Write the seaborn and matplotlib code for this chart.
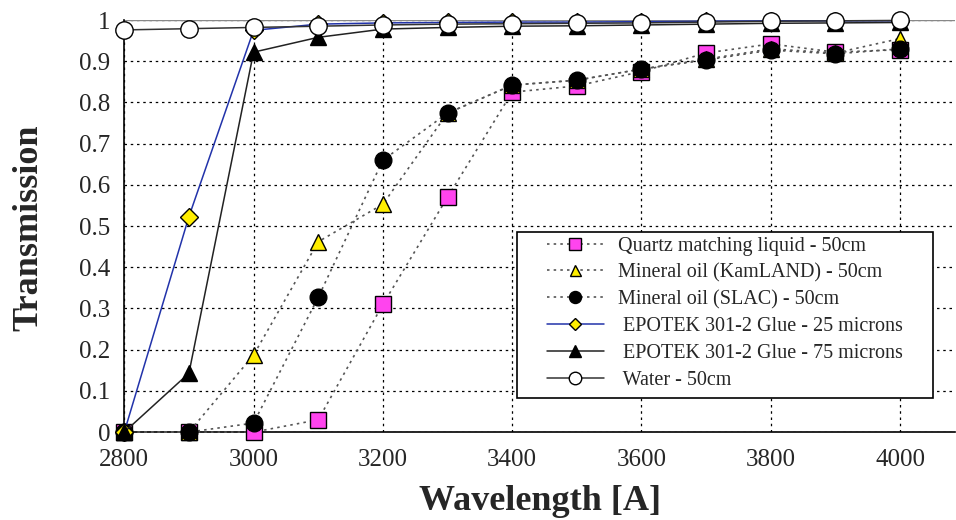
import matplotlib
matplotlib.use("Agg")
import matplotlib.pyplot as plt
from matplotlib.patches import Rectangle
import seaborn as sns
import pandas as pd

wavelength = [2800, 2900, 3000, 3100, 3200, 3300, 3400, 3500, 3600, 3700, 3800, 3900, 4000]
quartz = [0.0, 0.0, 0.0, 0.03, 0.31, 0.57, 0.825, 0.84, 0.875, 0.92, 0.942, 0.922, 0.928]
kamland = [0.0, 0.0, 0.187, 0.462, 0.553, 0.774, 0.842, 0.854, 0.881, 0.905, 0.93, 0.92, 0.955]
slac = [0.0, 0.0, 0.022, 0.327, 0.66, 0.774, 0.842, 0.854, 0.881, 0.903, 0.927, 0.918, 0.93]
glue25 = [0.0, 0.523, 0.975, 0.99, 0.993, 0.994, 0.995, 0.995, 0.996, 0.997, 0.998, 0.998, 0.998]
glue75 = [0.0, 0.143, 0.922, 0.958, 0.978, 0.982, 0.985, 0.986, 0.988, 0.99, 0.992, 0.993, 0.994]
water = [0.976, 0.979, 0.982, 0.985, 0.988, 0.99, 0.991, 0.992, 0.993, 0.995, 0.997, 0.998, 0.999]

labels = ["Quartz matching liquid - 50cm", "Mineral oil (KamLAND) - 50cm",
          "Mineral oil (SLAC) - 50cm", " EPOTEK 301-2 Glue - 25 microns",
          " EPOTEK 301-2 Glue - 75 microns", " Water - 50cm"]
series = [quartz, kamland, slac, glue25, glue75, water]

styles = [
    dict(color="#555555", ls=(0, (1.5, 2.5)), lw=1.2, marker="s", mfc="#ff44ee", mec="black", ms=11.5),
    dict(color="#555555", ls=(0, (1.5, 2.5)), lw=1.2, marker="^", mfc="#ffee00", mec="black", ms=11),
    dict(color="#555555", ls=(0, (1.5, 2.5)), lw=1.2, marker="o", mfc="black", mec="black", ms=12),
    dict(color="#2233aa", ls="-", lw=1.1, marker="D", mfc="#ffee00", mec="black", ms=9),
    dict(color="#222222", ls="-", lw=1.1, marker="^", mfc="black", mec="black", ms=12),
    dict(color="#333333", ls="-", lw=1.1, marker="o", mfc="white", mec="black", ms=12.5),
]

sns.set_style("white")
plt.rcParams["font.family"] = ["Liberation Serif", "DejaVu Serif"]

fig = plt.figure(figsize=(9.56, 5.2), dpi=100)
ax = fig.add_axes([0.130, 0.169, 0.869, 0.7925])

ax.axhline(1.0, color="#888888", lw=1.0, zorder=2)
for i, (lab, vals, st) in enumerate(zip(labels, series, styles)):
    df = pd.DataFrame({"Wavelength": wavelength, "Transmission": vals})
    sns.lineplot(data=df, x="Wavelength", y="Transmission", ax=ax, label=lab,
                 color=st["color"], linestyle=st["ls"], linewidth=st["lw"],
                 marker=st["marker"], markerfacecolor=st["mfc"], markeredgecolor=st["mec"],
                 markeredgewidth=1.0, markersize=st["ms"], zorder=3 + i, clip_on=False)

ax.set_xlim(2800, 4085)
ax.set_ylim(0, 1.0)
ax.set_xticks(range(2800, 4001, 200))
ax.set_yticks([i / 10 for i in range(11)])
ax.set_yticklabels(["0", "0.1", "0.2", "0.3", "0.4", "0.5", "0.6", "0.7", "0.8", "0.9", "1"])
ax.tick_params(axis="x", labelsize=18, direction="inout", length=7, width=1, color="black", pad=9)
ax.tick_params(axis="y", labelsize=18, direction="out", length=4, width=1, color="black", pad=6)
ax.grid(True, color="black", linestyle=(0, (2, 3)), linewidth=0.9)
for s in ["top", "right"]:
    ax.spines[s].set_visible(False)
for s in ["left", "bottom"]:
    ax.spines[s].set_color("black")
    ax.spines[s].set_linewidth(1.2)

ax.set_xlabel("Wavelength [A]", fontsize=26, fontweight="bold")
ax.set_ylabel("Transmission", fontsize=26, fontweight="bold")
ax.xaxis.set_label_coords(0.5, -0.128)
ax.yaxis.set_label_coords(-0.095, 0.495)

# legend box frame
box = Rectangle((0.473, 0.083), 0.5006, 0.403, transform=ax.transAxes,
                facecolor="white", edgecolor="black", linewidth=1.2, zorder=19, clip_on=False)
ax.add_patch(box)

leg = ax.legend(loc="lower left", bbox_to_anchor=(0.509, 0.103), fontsize=14.5,
                frameon=False, handlelength=2.8, handletextpad=0.7, labelspacing=0.38,
                borderpad=0, borderaxespad=0, markerscale=0.72)
leg.set_zorder(20)

fig.savefig("out.png", dpi=100)
